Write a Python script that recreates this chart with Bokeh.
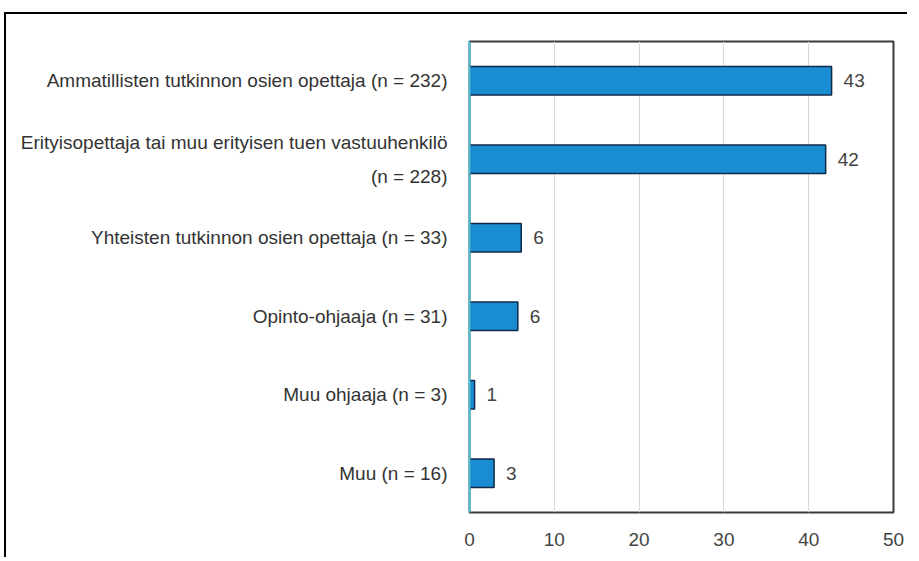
from bokeh.plotting import figure
from bokeh.models import ColumnDataSource, FixedTicker
from bokeh.embed import file_html
from bokeh.resources import INLINE
from bokeh.core.properties import value

categories = [
    "Ammatillisten tutkinnon osien opettaja (n = 232)",
    "Erityisopettaja tai muu erityisen tuen vastuuhenkilö\n(n = 228)",
    "Yhteisten tutkinnon osien opettaja (n = 33)",
    "Opinto-ohjaaja (n = 31)",
    "Muu ohjaaja (n = 3)",
    "Muu (n = 16)",
]
percent = [42.7, 42.0, 6.1, 5.7, 0.6, 2.9]
labels = ["43", "42", "6", "6", "1", "3"]
x_ticks = [0, 10, 20, 30, 40, 50]

FONT = "Liberation Sans"

src = ColumnDataSource(dict(cat=categories, val=percent, lab=labels))

p = figure(
    y_range=list(reversed(categories)),
    x_range=(0, 50),
    width=903, height=545,
    output_backend="svg", toolbar_location=None,
    min_border_left=463, min_border_top=27, min_border_right=16, min_border_bottom=47,
)
p.styles = {"border-top": "2px solid #000", "border-left": "2px solid #000",
            "margin-left": "4px", "margin-top": "12px"}

p.hbar(y="cat", right="val", left=0, height=0.36, source=src,
       fill_color="#1a8dd2", line_color="#0f2a48", line_width=1.5)
p.text(x="val", y="cat", text="lab", source=src, x_offset=12,
       text_align="left", text_baseline="middle",
       text_font=value(FONT), text_font_size="19px", text_color="#444444")

p.outline_line_color = "#3a3a3a"
p.outline_line_width = 2
p.ygrid.grid_line_color = None
p.xgrid.grid_line_color = "#d8d8d8"
p.xgrid.ticker = FixedTicker(ticks=x_ticks)

p.xaxis.ticker = FixedTicker(ticks=x_ticks)
p.xaxis.axis_line_color = None
p.xaxis.major_tick_line_color = None
p.xaxis.minor_tick_line_color = None
p.xaxis.major_label_standoff = 14
p.xaxis.major_label_text_font = FONT
p.xaxis.major_label_text_font_size = "19px"
p.xaxis.major_label_text_color = "#444444"

p.yaxis.axis_line_color = "#4fc3d9"
p.yaxis.axis_line_width = 2
p.yaxis.major_tick_line_color = None
p.yaxis.minor_tick_line_color = None
p.yaxis.major_label_standoff = 16
p.yaxis.major_label_text_font = FONT
p.yaxis.major_label_text_font_size = "19px"
p.yaxis.major_label_text_line_height = 1.6
p.yaxis.major_label_text_color = "#333333"

open("out.html", "w").write(file_html(p, INLINE))
